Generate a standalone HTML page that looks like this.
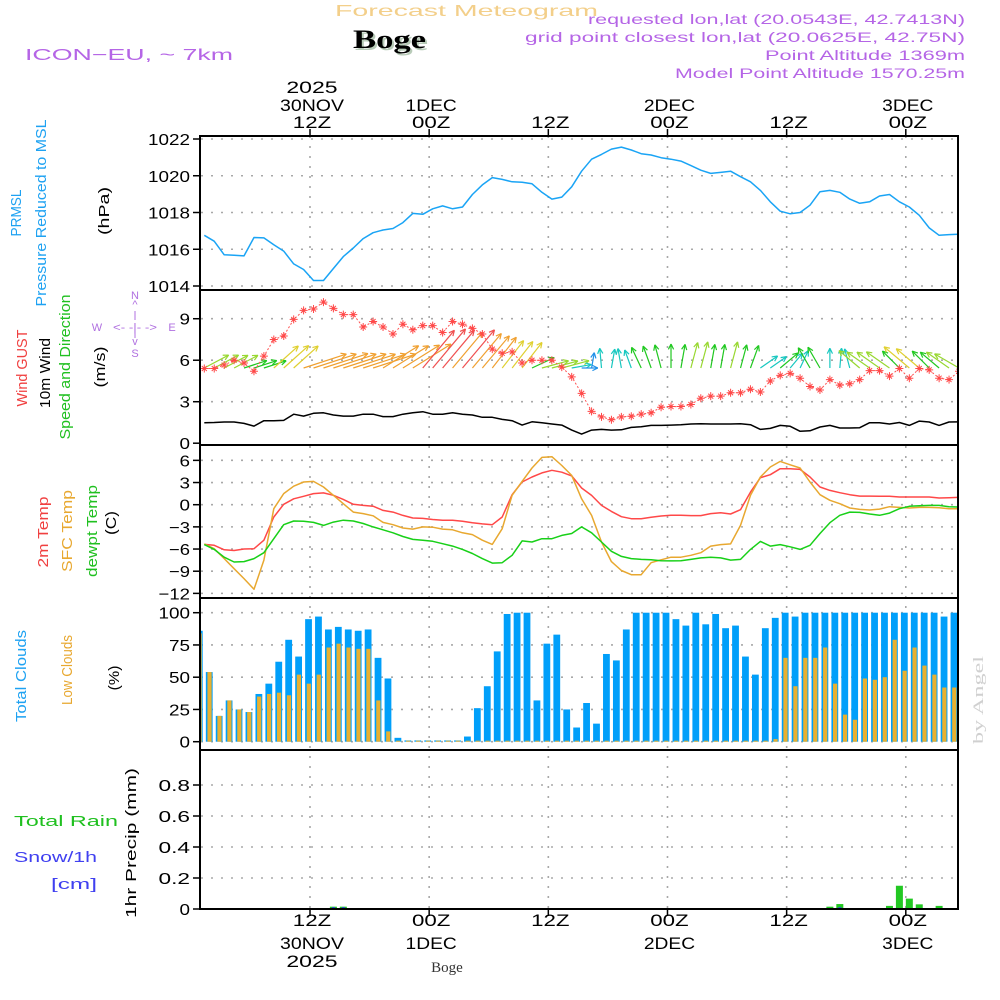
<!DOCTYPE html>
<html><head><meta charset="utf-8"><title>Forecast Meteogram Boge</title>
<style>
html,body{margin:0;padding:0;background:#fff;}
svg{display:block;font-family:"Liberation Sans",sans-serif;}
</style></head>
<body>
<svg id="chart" width="1000" height="1000" viewBox="0 0 1000 1000">
<defs><clipPath id="plotclip"><rect x="201" y="136" width="757" height="773"/></clipPath></defs>
<rect x="0" y="0" width="1000" height="1000" fill="#fff"/>
<text x="335" y="16" font-size="16" fill="#f3cf8a" textLength="263" lengthAdjust="spacingAndGlyphs">Forecast Meteogram</text>
<text x="355" y="50" font-size="26" font-weight="bold" font-family="Liberation Serif, serif" fill="#b8cbb8" textLength="73" lengthAdjust="spacingAndGlyphs">Boge</text>
<text x="353" y="48" font-size="26" font-weight="bold" font-family="Liberation Serif, serif" fill="#000" textLength="73" lengthAdjust="spacingAndGlyphs">Boge</text>
<text x="25" y="60" font-size="16" fill="#b565e6" textLength="208" lengthAdjust="spacingAndGlyphs">ICON−EU, ~ 7km</text>
<g fill="#b565e6" font-size="14" text-anchor="end">
<text x="965" y="24" textLength="377" lengthAdjust="spacingAndGlyphs">requested lon,lat (20.0543E, 42.7413N)</text>
<text x="965" y="42" textLength="440" lengthAdjust="spacingAndGlyphs">grid point closest lon,lat (20.0625E, 42.75N)</text>
<text x="965" y="60" textLength="200" lengthAdjust="spacingAndGlyphs">Point Altitude 1369m</text>
<text x="965" y="78" textLength="290" lengthAdjust="spacingAndGlyphs">Model Point Altitude 1570.25m</text>
</g>
<g font-size="15">
<text transform="translate(21,213) rotate(-90)" text-anchor="middle" fill="#1ea2f2" textLength="47" lengthAdjust="spacingAndGlyphs">PRMSL</text>
<text transform="translate(46,213) rotate(-90)" text-anchor="middle" fill="#1ea2f2" textLength="187" lengthAdjust="spacingAndGlyphs">Pressure Reduced to MSL</text>
<text transform="translate(109,211) rotate(-90)" text-anchor="middle" fill="#000" textLength="48" lengthAdjust="spacingAndGlyphs">(hPa)</text>
<text transform="translate(27,368) rotate(-90)" text-anchor="middle" fill="#f04040" textLength="77" lengthAdjust="spacingAndGlyphs">Wind GUST</text>
<text transform="translate(50,373) rotate(-90)" text-anchor="middle" fill="#000" textLength="70" lengthAdjust="spacingAndGlyphs">10m Wind</text>
<text transform="translate(70,367) rotate(-90)" text-anchor="middle" fill="#20c020" textLength="145" lengthAdjust="spacingAndGlyphs">Speed and Direction</text>
<text transform="translate(105,367) rotate(-90)" text-anchor="middle" fill="#000" textLength="41" lengthAdjust="spacingAndGlyphs">(m/s)</text>
<text transform="translate(48,532) rotate(-90)" text-anchor="middle" fill="#f04040" textLength="71" lengthAdjust="spacingAndGlyphs">2m Temp</text>
<text transform="translate(72,531) rotate(-90)" text-anchor="middle" fill="#e8a830" textLength="82" lengthAdjust="spacingAndGlyphs">SFC Temp</text>
<text transform="translate(97,531) rotate(-90)" text-anchor="middle" fill="#20c020" textLength="92" lengthAdjust="spacingAndGlyphs">dewpt Temp</text>
<text transform="translate(116,523) rotate(-90)" text-anchor="middle" fill="#000" textLength="24" lengthAdjust="spacingAndGlyphs">(C)</text>
<text transform="translate(26,676) rotate(-90)" text-anchor="middle" fill="#1ea2f2" textLength="92" lengthAdjust="spacingAndGlyphs">Total Clouds</text>
<text transform="translate(72,670) rotate(-90)" text-anchor="middle" fill="#e8a830" textLength="70" lengthAdjust="spacingAndGlyphs">Low Clouds</text>
<text transform="translate(119,678) rotate(-90)" text-anchor="middle" fill="#000" textLength="25" lengthAdjust="spacingAndGlyphs">(%)</text>
<text transform="translate(136,843) rotate(-90)" text-anchor="middle" fill="#000" textLength="150" lengthAdjust="spacingAndGlyphs">1hr Precip (mm)</text>
<text x="14" y="826" fill="#20c020" textLength="104" lengthAdjust="spacingAndGlyphs">Total  Rain</text>
<text x="14" y="862" fill="#4040f0" textLength="83" lengthAdjust="spacingAndGlyphs">Snow/1h</text>
<text x="51" y="889" fill="#4040f0" textLength="46" lengthAdjust="spacingAndGlyphs">[cm]</text>
</g>
<g fill="#b070e0" stroke="none" font-size="11" text-anchor="middle">
<text x="135" y="299">N</text>
<text x="135" y="308">^</text>
<text x="97" y="331">W</text>
<text x="135" y="331" textLength="44" lengthAdjust="spacingAndGlyphs">&lt;- -|- -&gt;</text>
<text x="172" y="331">E</text>
<text x="135" y="345">v</text>
<text x="135" y="357">S</text>
<line x1="135" y1="311" x2="135" y2="320" stroke="#b070e0" stroke-width="1"/>
<line x1="135" y1="332" x2="135" y2="338" stroke="#b070e0" stroke-width="1"/>
</g>
<text transform="translate(983,700) rotate(-90)" text-anchor="middle" font-size="15" font-family="Liberation Serif, serif" fill="#d0d0d0" textLength="88" lengthAdjust="spacingAndGlyphs">by Angel</text>
<text x="447" y="972" text-anchor="middle" font-size="15" font-family="Liberation Serif, serif" fill="#333">Boge</text>
<g id="layer-grid"></g>
<g id="layer-data" clip-path="url(#plotclip)"></g>
<g id="layer-axes"></g>
</svg>
<script>
// ---- data (hourly, index 0..76) ----
const pressure = [1016.76,1016.44,1015.7,1015.67,1015.64,1016.64,1016.62,1016.25,1015.9,1015.2,1014.9,1014.3,1014.3,1014.95,1015.6,1016.07,1016.58,1016.9,1017.05,1017.13,1017.45,1017.95,1017.9,1018.2,1018.36,1018.2,1018.3,1018.98,1019.5,1019.9,1019.8,1019.67,1019.65,1019.56,1019.1,1018.73,1018.84,1019.4,1020.25,1020.9,1021.16,1021.45,1021.56,1021.4,1021.2,1021.13,1020.98,1020.9,1020.8,1020.55,1020.3,1020.13,1020.18,1020.25,1019.95,1019.67,1019.2,1018.58,1018.07,1017.93,1018.0,1018.4,1019.13,1019.2,1019.1,1018.73,1018.5,1018.58,1018.9,1018.98,1018.58,1018.3,1017.85,1017.16,1016.76,1016.8,1016.82];
const windGust = [5.4,5.4,5.65,6.0,5.8,5.2,6.3,7.5,7.75,8.95,9.6,9.7,10.2,9.75,9.3,9.3,8.4,8.8,8.4,7.9,8.6,8.2,8.5,8.5,8.0,8.8,8.6,8.3,7.9,6.8,6.5,6.6,5.8,6.0,6.0,6.0,5.5,4.8,3.6,2.3,1.9,1.7,1.9,1.95,2.1,2.2,2.6,2.65,2.65,2.8,3.25,3.4,3.4,3.65,3.65,3.9,3.7,4.5,4.9,5.05,4.7,4.1,3.85,4.6,4.2,4.3,4.6,5.25,5.25,4.85,5.4,4.7,5.4,5.3,4.7,4.6,5.2];
const windSpeed = [1.48,1.5,1.53,1.53,1.43,1.24,1.63,1.63,1.65,2.1,1.96,2.16,2.2,2.04,1.96,1.96,2.1,2.1,1.92,1.92,2.1,2.2,2.28,2.1,2.1,2.2,2.1,2.04,1.87,1.87,1.72,1.63,1.31,1.55,1.48,1.39,1.31,0.95,0.66,0.95,1.0,0.95,0.97,1.14,1.19,1.29,1.29,1.31,1.34,1.39,1.41,1.39,1.39,1.39,1.41,1.34,1.0,1.07,1.29,1.22,0.86,0.9,1.17,1.29,1.1,1.1,1.12,1.48,1.48,1.39,1.5,1.29,1.6,1.53,1.29,1.53,1.55];
const arrowSpeed = [3.6,3.6,3.5,3.5,3.0,3.0,2.9,4.5,4.6,4.5,6.5,6.5,6.8,6.5,6.5,6.4,6.5,6.5,6.0,6.0,6.2,6.5,7.2,7.5,7.2,6.8,7.3,6.5,6.0,5.5,4.8,4.6,4.4,3.1,3.6,3.5,3.7,2.3,1.7,1.6,2.3,2.2,2.3,2.2,2.8,2.9,3.0,3.0,3.0,3.4,3.5,3.0,3.0,3.5,3.0,3.0,2.5,2.3,2.9,2.2,2.2,2.9,3.0,2.3,2.3,2.3,3.5,3.6,3.6,3.7,3.0,4.5,4.0,3.0,3.1,3.6,3.7];
const arrowDir = [62,62,62,62,72,72,72,48,48,48,72,72,72,72,72,72,72,72,58,58,58,58,40,40,40,40,40,40,40,38,38,38,38,65,75,75,75,80,90,10,-5,10,-10,-20,-25,-20,-15,0,10,15,15,10,10,15,15,20,55,55,50,40,25,-30,-30,0,5,-15,-50,-55,-55,-55,-45,-50,-50,-45,-50,-55,-60];
const temp2m = [-5.37,-5.5,-6.1,-6.2,-6.0,-5.95,-4.8,-1.67,0.05,0.8,1.13,1.5,1.6,1.27,0.72,0.05,-0.1,-0.2,-0.77,-1.0,-1.45,-1.8,-1.85,-2.0,-2.1,-2.1,-2.25,-2.45,-2.6,-2.7,-1.67,1.35,3.07,3.75,4.3,4.65,4.4,3.9,2.26,1.26,-0.1,-0.9,-1.62,-1.9,-1.9,-1.7,-1.53,-1.44,-1.44,-1.48,-1.48,-1.2,-1.08,-1.26,-0.68,1.7,3.65,4.06,4.87,4.87,4.78,3.75,2.4,1.94,1.62,1.35,1.17,1.17,1.13,1.13,1.04,1.04,1.04,1.04,0.9,0.95,1.0];
const tempSfc = [-5.3,-5.95,-7.3,-8.66,-10.0,-11.45,-7.5,-0.54,1.5,2.5,3.07,3.15,2.4,1.27,0.14,-1.0,-1.2,-1.5,-2.4,-2.7,-3.15,-3.3,-3.0,-3.05,-3.3,-3.4,-3.8,-4.05,-4.8,-5.37,-3.25,1.27,3.15,4.96,6.4,6.5,5.3,3.97,0.8,-1.45,-5.05,-7.7,-8.9,-9.47,-9.47,-7.85,-7.45,-7.1,-7.1,-6.85,-6.5,-5.6,-5.4,-5.3,-2.8,1.27,3.75,5.1,5.86,5.4,4.96,3.07,1.35,0.6,0.14,-0.45,-0.63,-0.72,-0.59,-0.27,-0.36,-0.45,-0.36,-0.36,-0.4,-0.54,-0.54];
const tempDew = [-5.4,-6.05,-7.1,-7.75,-7.7,-7.3,-6.5,-4.6,-2.7,-2.2,-2.25,-2.4,-2.8,-2.35,-2.1,-2.2,-2.55,-3.0,-3.4,-3.8,-4.3,-4.7,-4.8,-4.95,-5.28,-5.6,-6.05,-6.6,-7.3,-7.9,-7.85,-6.85,-4.9,-5.05,-4.6,-4.6,-4.15,-3.9,-3.0,-3.8,-5.05,-6.3,-7.0,-7.3,-7.4,-7.45,-7.58,-7.6,-7.58,-7.4,-7.2,-7.1,-7.2,-7.5,-7.4,-6.05,-4.96,-5.6,-5.4,-5.7,-6.05,-5.5,-3.9,-2.43,-1.44,-1.0,-1.04,-1.26,-1.44,-1.13,-0.54,-0.22,-0.13,-0.09,-0.09,-0.27,-0.31];
const cloudTotal = [86,54,20,32,25,23,37,45,62,79,66,95,97,87,89,87,86,87,65,49,3,1,1,1,1,1,1,4,26,43,70,99,100,100,32,76,83,25,11,30,14,68,63,87,100,100,100,100,95,90,100,91,99,88,90,66,52,88,96,100,97,100,100,100,100,100,100,100,100,100,100,100,100,100,100,97,100];
const cloudLow = [84,54,20,32,25,23,35,37,38,36,52,45,52,73,76,73,72,72,32,8,0,0,0,0,0,0,0,0,0,0,0,0,0,0,0,0,0,0,0,0,0,0,0,0,0,0,0,0,0,0,0,0,0,0,0,0,0,0,2,65,43,65,65,73,45,21,17,49,48,50,79,55,73,59,52,42,42];
const precipRain = [0,0,0,0,0,0,0,0,0,0,0,0,0,0.015,0.015,0,0,0,0,0,0,0,0,0,0,0,0,0,0,0,0,0,0,0,0,0,0,0,0,0,0,0,0,0,0,0,0,0,0,0,0,0,0,0,0,0,0,0,0,0,0,0,0,0.015,0.032,0,0,0.002,0.002,0.02,0.15,0.067,0.03,0.006,0.02,0,0];
const precipSnow = [0,0,0,0,0,0,0,0,0,0,0,0,0,0.012,0.012,0,0,0,0,0,0,0,0,0,0,0,0,0,0,0,0,0,0,0,0,0,0,0,0,0,0,0,0,0,0,0,0,0,0,0,0,0,0,0,0,0,0,0,0,0,0,0,0,0.005,0.012,0,0,0,0,0,0,0,0,0,0,0,0];
const pressureTicks = [1014,1016,1018,1020,1022];
const windTicks = [0,3,6,9];
const tempTicks = [6,3,0,-3,-6,-9,-12];
const cloudTicks = [0,25,50,75,100];
const precipTicks = [0,0.2,0.4,0.6,0.8];
const timeHours = [12,24,36,48,60,72];
const timeTopHour = ['12Z','00Z','12Z','00Z','12Z','00Z'];
const timeDay = ['30NOV','1DEC','','2DEC','','3DEC'];
const timeYear = ['2025','','','','',''];

// ---- axis functions ----
const PX = 9.93;
const lineX = k => 204.3 + k*PX;
const barX = k => 199.3 + k*PX;
const timeX = h => 310 + (h-12)*PX;
const yP = v => 286 - (v-1014)*18.375;
const yW = v => 443.2 - v*13.83;
const yT = v => 504.7 - v*7.39;
const yC = v => 741.7 - v*1.29;
const yR = v => 909 - v*155;

const NS = 'http://www.w3.org/2000/svg';
const gGrid = document.getElementById('layer-grid');
const gData = document.getElementById('layer-data');
const gAxes = document.getElementById('layer-axes');
function mk(tag, attrs, parent){ const e=document.createElementNS(NS,tag); for(const a in attrs) e.setAttribute(a, attrs[a]); parent.appendChild(e); return e; }
const fmtT = v => (v<0 ? '\u2212'+Math.abs(v) : String(v));

function hgrid(vals, f, name){
  vals.forEach(v=>{
    const el = mk('line',{x1:201,x2:958,y1:f(v),y2:f(v),stroke:'#a8a8a8','stroke-width':1.6,'stroke-dasharray':'2,8'},gGrid);
    
    
  });
}
hgrid(pressureTicks, yP, 'pressure');
hgrid(windTicks.filter(v=>v>0), yW, 'wind');
hgrid(tempTicks, yT, 'temp');
hgrid(cloudTicks, yC, 'cloud');
hgrid(precipTicks.filter(v=>v>0), yR, 'precip');
timeHours.forEach(h=>{
  const el = mk('line',{x1:timeX(h),x2:timeX(h),y1:136,y2:909,stroke:'#a8a8a8','stroke-width':1.6,'stroke-dasharray':'2,8'},gGrid);
  
  
});

function poly(arr, f, color, name, extra){
  const pts = arr.map((v,k)=>lineX(k).toFixed(1)+','+f(v).toFixed(1)).join(' ');
  const el = mk('polyline', Object.assign({points:pts,fill:'none',stroke:color,'stroke-width':1.5,'stroke-linejoin':'round'}, extra||{}), gData);
  
  
  return el;
}
poly(pressure, yP, '#1aa4f5', 'pressure-line');
poly(windSpeed, yW, '#000', 'wind-speed-line');

function arrowColor(s){
  if (s < 1.9) return '#2090e8';
  if (s < 2.6) return '#18c8c0';
  if (s < 3.3) return '#20c820';
  if (s < 4.0) return '#98d830';
  if (s < 5.0) return '#e0d030';
  if (s < 7.0) return '#f0a030';
  return '#f05050';
}
arrowSpeed.forEach((s,k)=>{
  const L = 6 + s*6;
  const a = arrowDir[k]*Math.PI/180;
  const x0 = lineX(k), y0 = 368;
  const x1 = x0 + Math.sin(a)*L, y1 = y0 - Math.cos(a)*L;
  const c = arrowColor(s);
  const g = mk('g',{stroke:c,'stroke-width':1.2,fill:'none'},gData);
  
  
  mk('line',{x1:x0,y1:y0,x2:x1,y2:y1},g);
  [0.45,-0.45].forEach(d=>{
    const b = a + Math.PI + d;
    mk('line',{x1:x1,y1:y1,x2:x1+Math.sin(b)*6,y2:y1-Math.cos(b)*6},g);
  });
});

poly(windGust, yW, '#ff5050', 'wind-gust-line', {'stroke-width':1,'stroke-dasharray':'2,2'});
windGust.forEach((v,k)=>{
  const x = lineX(k), y = yW(v);
  const p = mk('path',{d:`M${x-4},${y}H${x+4}M${x},${y-4}V${y+4}M${x-2.5},${y-2.5}L${x+2.5},${y+2.5}M${x-2.5},${y+2.5}L${x+2.5},${y-2.5}`,stroke:'#ff4848','stroke-width':1,fill:'none'},gData);
  
  
});

poly(temp2m, yT, '#ff4848', 'temp-2m-line');
poly(tempSfc, yT, '#e8a830', 'temp-sfc-line');
poly(tempDew, yT, '#18d018', 'temp-dewpt-line');

cloudTotal.forEach((v,k)=>{
  const c = barX(k), h = Math.max(1, yC(0)-yC(v));
  const r = mk('rect',{x:c-3.4,y:yC(0)-h,width:6.8,height:h,fill:'#009ffa'},gData);
  
  
});
cloudLow.forEach((v,k)=>{
  const c = barX(k), h = Math.max(1, yC(0)-yC(v));
  const r = mk('rect',{x:c-1.8,y:yC(0)-h,width:4.2,height:h,fill:'#e8b030'},gData);
  
  
});

precipRain.forEach((v,k)=>{
  if (v<=0) return;
  const c = lineX(k), h = Math.max(1, yR(0)-yR(v));
  const r = mk('rect',{x:c-3.5,y:yR(0)-h,width:7,height:h,fill:'#22c822'},gData);
  
  
});
precipSnow.forEach((v,k)=>{
  if (v<=0) return;
  const c = lineX(k), h = Math.max(1, yR(0)-yR(v));
  const r = mk('rect',{x:c-1.5,y:yR(0)-h,width:3,height:h,fill:'#3040f0'},gData);
  
  
});

[[136,290],[290,445],[445,598],[598,750],[750,909]].forEach(([t,b])=>{
  const r = mk('rect',{x:200,y:t,width:758,height:b-t,fill:'none',stroke:'#000','stroke-width':2},gAxes);
  
  
});
function yTicks(vals, f, fmt, name){
  vals.forEach(v=>{
    const y = f(v);
    const t = mk('line',{x1:193,x2:200,y1:y,y2:y,stroke:'#000','stroke-width':1.5},gAxes);
    
    
    const s = fmt(v);
    const tx = mk('text',{x:190,y:y+6,'text-anchor':'end','font-size':16,fill:'#000',textLength:s.length*10.5,lengthAdjust:'spacingAndGlyphs'},gAxes);
    tx.textContent = s;
    
    
  });
}
yTicks(pressureTicks, yP, String, 'pressure');
yTicks(windTicks, yW, String, 'wind');
yTicks(tempTicks, yT, fmtT, 'temp');
yTicks(cloudTicks, yC, String, 'cloud');
yTicks(precipTicks, yR, v=>(v===0?'0':v.toFixed(1)), 'precip');

function tlabel(x, y, s, name){
  if (!s) return;
  const tx = mk('text',{x:x,y:y,'text-anchor':'middle','font-size':17,fill:'#000',textLength:s.length*12.8,lengthAdjust:'spacingAndGlyphs'},gAxes);
  tx.textContent = s;
  
  
}
timeHours.forEach((h,i)=>{
  const x = timeX(h)+2;
  const t1 = mk('line',{x1:x-2,x2:x-2,y1:129,y2:136,stroke:'#000','stroke-width':1.5},gAxes);
  
  
  const t2 = mk('line',{x1:x-2,x2:x-2,y1:909,y2:916,stroke:'#000','stroke-width':1.5},gAxes);
  
  
  tlabel(x, 93, timeYear[i], 'top-year-label');
  tlabel(x, 111, timeDay[i], 'top-day-label');
  tlabel(x, 128, timeTopHour[i], 'top-hour-label');
  tlabel(x, 926, timeTopHour[i], 'bottom-hour-label');
  tlabel(x, 949, timeDay[i], 'bottom-day-label');
  tlabel(x, 967, timeYear[i], 'bottom-year-label');
});
</script>
</body></html>
